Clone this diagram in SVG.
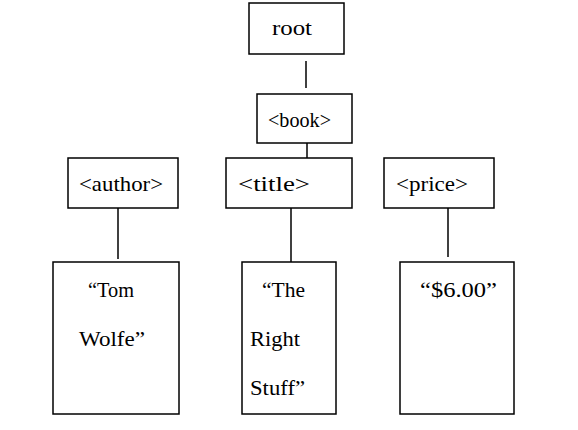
<svg xmlns="http://www.w3.org/2000/svg" width="578" height="430" viewBox="0 0 578 430">
<style>
rect{fill:#fff;stroke:#000;stroke-width:1.5}
line{stroke:#000;stroke-width:1.5}
text{font-family:"Liberation Serif","Noto Serif",serif;font-size:21px;fill:#000}
</style>
<rect x="0" y="0" width="578" height="430" style="stroke:none"/>
<g id="connectors">
<line x1="306" y1="61" x2="306" y2="88"/>
<line x1="307" y1="143" x2="307" y2="158"/>
<line x1="118" y1="208" x2="118" y2="259"/>
<line x1="291" y1="208" x2="291" y2="262"/>
<line x1="448" y1="208" x2="448" y2="257"/>
</g>
<g id="root"><rect x="249" y="3" width="95" height="51"/><text x="272" y="35" textLength="40" lengthAdjust="spacingAndGlyphs">root</text></g>
<g id="book"><rect x="257" y="94" width="95" height="49"/><text x="268" y="127" textLength="63" lengthAdjust="spacingAndGlyphs">&lt;book&gt;</text></g>
<g id="author"><rect x="68" y="158" width="110" height="50"/><text x="79" y="191" textLength="84" lengthAdjust="spacingAndGlyphs">&lt;author&gt;</text></g>
<g id="title"><rect x="226" y="158" width="126" height="50"/><text x="238" y="191" textLength="72" lengthAdjust="spacingAndGlyphs">&lt;title&gt;</text></g>
<g id="price"><rect x="384" y="158" width="110" height="50"/><text x="396" y="191" textLength="72" lengthAdjust="spacingAndGlyphs">&lt;price&gt;</text></g>
<g id="tomwolfe"><rect x="53" y="262" width="126" height="152"/><text x="88" y="297" textLength="46" lengthAdjust="spacingAndGlyphs">“Tom</text><text x="79" y="346" textLength="66" lengthAdjust="spacingAndGlyphs">Wolfe”</text></g>
<g id="rightstuff"><rect x="242" y="262" width="94" height="152"/><text x="262" y="297" textLength="43" lengthAdjust="spacingAndGlyphs">“The</text><text x="250" y="346" textLength="50" lengthAdjust="spacingAndGlyphs">Right</text><text x="250" y="395" textLength="55" lengthAdjust="spacingAndGlyphs">Stuff”</text></g>
<g id="pricevalue"><rect x="400" y="262" width="114" height="152"/><text x="420" y="297" textLength="77" lengthAdjust="spacingAndGlyphs">“$6.00”</text></g>
</svg>
